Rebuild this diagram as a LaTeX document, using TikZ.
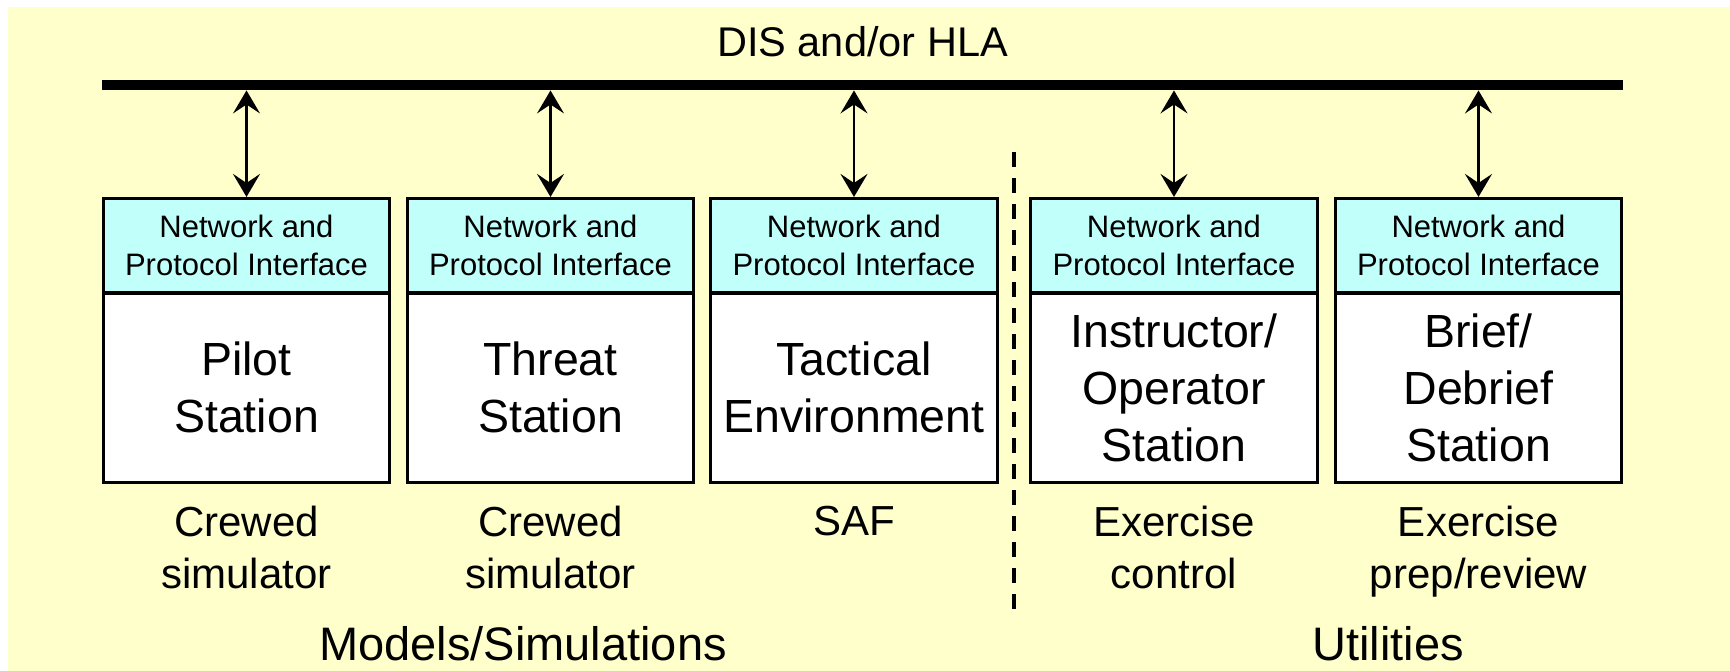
\documentclass[tikz,border=0pt]{standalone}
\usepackage{fontspec}
\setmainfont{Liberation Sans}
\usetikzlibrary{arrows.meta}
\definecolor{paper}{HTML}{FFFFCC}
\definecolor{iface}{HTML}{C0FFFA}

\begin{document}
\begin{tikzpicture}[x=1pt,y=-1pt,
  hdr/.style={draw, line width=2.6pt, fill=iface, minimum width=286.5pt,
    minimum height=94.5pt, inner sep=0pt, align=center,
    font=\fontsize{31}{38.5}\selectfont},
  stationbox/.style={draw, line width=2.6pt, fill=white, minimum width=286.5pt,
    minimum height=189pt, inner sep=0pt, align=center,
    font=\fontsize{46.5}{57}\selectfont},
  role/.style={anchor=north, inner sep=0pt, align=center,
    font=\fontsize{42}{52}\selectfont},
  grouptitle/.style={anchor=base, inner sep=0pt, font=\fontsize{47}{56}\selectfont},
  link/.style={line width=2.2pt,
    {Stealth[length=23pt,width=27pt,inset=9pt]}-{Stealth[length=23pt,width=27pt,inset=9pt]}},
  divider/.style={line width=3.5pt, dash pattern=on 15pt off 11pt}]

% page and background
\useasboundingbox (0,0) rectangle (1730,671);
\fill[white] (0,0) rectangle (1730,671);
\fill[paper] (8,7) rectangle (1730,671);

% network bus
\node[anchor=base, inner sep=0pt, font=\fontsize{41.5}{50}\selectfont] (bustitle) at (862.5,57) {DIS and/or HLA};
\node[fill=black, minimum width=1521pt, minimum height=10.5pt, inner sep=0pt] (bus) at (862.5,85) {};

% stations: interface header + station body
\node[hdr] (h1) at (246.5,245.5) {Network and\\Protocol Interface};
\node[stationbox] (b1) at (246.5,387.75) {Pilot\\Station};
\node[hdr] (h2) at (550.5,245.5) {Network and\\Protocol Interface};
\node[stationbox] (b2) at (550.5,387.75) {Threat\\Station};
\node[hdr] (h3) at (854,245.5) {Network and\\Protocol Interface};
\node[stationbox] (b3) at (854,387.75) {Tactical\\Environment};
\node[hdr] (h4) at (1174,245.5) {Network and\\Protocol Interface};
\node[stationbox] (b4) at (1174,387.75) {Instructor/\\Operator\\Station};
\node[hdr] (h5) at (1478.5,245.5) {Network and\\Protocol Interface};
\node[stationbox] (b5) at (1478.5,387.75) {Brief/\\Debrief\\Station};

% roles under each station
\node[role] (r1) at (246.5,506) {Crewed\\simulator};
\node[role] (r2) at (550.5,506) {Crewed\\simulator};
\node[role] (r3) at (854,506) {SAF};
\node[role] (r4) at (1174,506) {Exercise\\control};
\node[role] (r5) at (1478.5,506) {Exercise\\prep/review};

% links to the bus
\foreach \n in {h1,h2,h3,h4,h5}
  \draw[link] (\n.north |- bus.south) -- (\n.north);

% group separator
\coordinate (divtop) at (1014,152);
\coordinate (divbot) at (1014,616);
\draw[divider] (divtop) -- (divbot);

% group titles
\node[grouptitle] (models) at (523,660) {Models/Simulations};
\node[grouptitle] (utils) at (1388,660) {Utilities};
\end{tikzpicture}
\end{document}
